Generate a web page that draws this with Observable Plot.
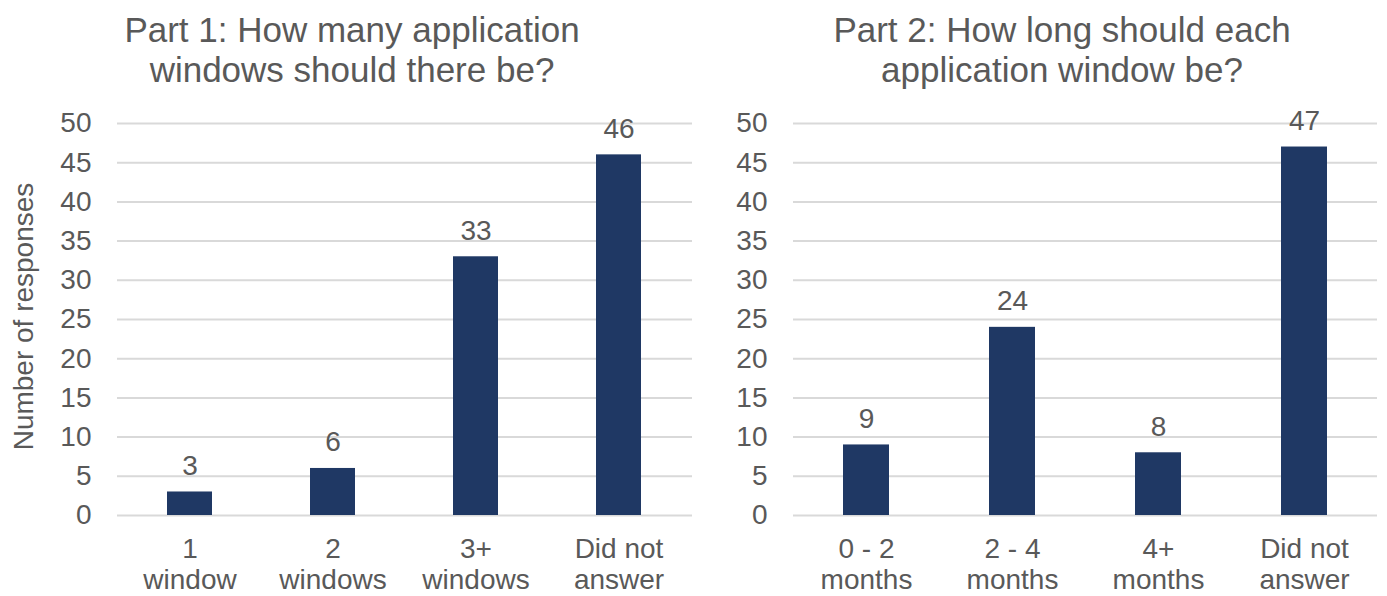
<!DOCTYPE html>
<html>
<head>
<meta charset="utf-8">
<script src="https://cdn.jsdelivr.net/npm/d3@7"></script>
<script src="https://cdn.jsdelivr.net/npm/@observablehq/plot@0.6"></script>
<style>
  html, body { margin: 0; padding: 0; background: #fff; }
  body { width: 1387px; height: 596px; position: relative; overflow: hidden;
         font-family: Arial, "Liberation Sans", sans-serif; color: #595959; }
  .title { position: absolute; top: 10px; text-align: center; font-size: 35px; line-height: 40px; color: #595959; }
  .panel { position: absolute; top: 95px; }
  .panel svg { overflow: visible; }
</style>
</head>
<body>
<div class="title" id="t1" style="left:0; width:704px;"></div>
<div class="title" id="t2" style="left:700px; width:724px;"></div>
<div class="panel" id="p1" style="left:0;"></div>
<div class="panel" id="p2" style="left:700px;"></div>
<script>
const title1 = ["Part 1: How many application", "windows should there be?"];
const title2 = ["Part 2: How long should each", "application window be?"];
const categories1 = ["1\nwindow", "2\nwindows", "3+\nwindows", "Did not\nanswer"];
const values1 = [3, 6, 33, 46];
const categories2 = ["0 - 2\nmonths", "2 - 4\nmonths", "4+\nmonths", "Did not\nanswer"];
const values2 = [9, 24, 8, 47];
const yTicks = [0, 5, 10, 15, 20, 25, 30, 35, 40, 45, 50];
const yLabel = "Number of responses";

document.getElementById("t1").innerHTML = title1.join("<br>");
document.getElementById("t2").innerHTML = title2.join("<br>");

const textColor = "#595959";
const barColor = "#1F3864";

function makeChart(categories, values, opts) {
  const data = categories.map((c, i) => ({cat: c, v: values[i]}));
  const marks = [
    Plot.gridY(yTicks, {stroke: "#d9d9d9", strokeOpacity: 1, strokeWidth: 2}),
    Plot.barY(data, {x: "cat", y: "v", fill: barColor}),
    Plot.text(data, {x: "cat", y: "v", text: d => String(d.v), lineAnchor: "bottom", dy: -17,
                     fontSize: 28, fill: textColor}),
    Plot.axisY(yTicks, {tickSize: 0, tickPadding: 26, fontSize: 28, fill: textColor, label: null}),
    Plot.axisX({tickSize: 0, tickPadding: 20, fontSize: 28, fill: textColor, lineHeight: 1.12, label: null})
  ];
  if (opts.yLabel) {
    marks.push(Plot.text([opts.yLabel], {text: d => d, frameAnchor: "left", dx: -93, dy: -3, rotate: -90,
                                         fontSize: 28, fill: textColor, textAnchor: "middle"}));
  }
  return Plot.plot({
    width: opts.width,
    height: 501,
    marginLeft: opts.marginLeft,
    marginRight: opts.marginRight,
    marginTop: 28,
    marginBottom: 81,
    style: {fontFamily: "Arial, 'Liberation Sans', sans-serif", color: textColor, background: "transparent"},
    x: {domain: categories, paddingInner: 0.685, paddingOuter: 0.3425},
    y: {domain: [0, 50]},
    marks
  });
}

document.getElementById("p1").appendChild(makeChart(categories1, values1, {width: 700, marginLeft: 117, marginRight: 8, yLabel: yLabel}));
document.getElementById("p2").appendChild(makeChart(categories2, values2, {width: 687, marginLeft: 93, marginRight: 10}));
</script>
</body>
</html>
